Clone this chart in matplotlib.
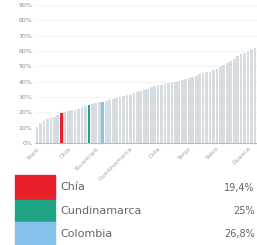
import numpy as np
import matplotlib
matplotlib.use("Agg")
import matplotlib.pyplot as plt
from matplotlib.patches import Rectangle

# share per municipality, sorted ascending (%)
values = [10.5, 13.0, 14.5, 15.5, 16.5, 17.2, 18.0, 19.4, 20.0, 20.6,
          21.2, 21.8, 22.5, 23.2, 24.0, 25.0, 25.5, 26.0, 26.5, 26.8,
          27.4, 28.0, 28.6, 29.2, 29.8, 30.4, 31.0, 31.6, 32.4, 33.1,
          33.8, 34.5, 35.3, 36.2, 37.0, 37.6, 38.1, 38.6, 39.0, 39.5,
          40.1, 40.7, 41.4, 42.0, 42.6, 43.3, 44.0, 44.7, 45.4, 46.0,
          46.6, 47.3, 48.5, 49.5, 50.8, 52.0, 53.5, 55.0, 56.5, 57.8,
          59.0, 60.0, 61.0, 62.0]

highlight_idx = [7, 15, 19]
highlight_names = ["Chía", "Cundinamarca", "Colombia"]
highlight_labels = ["19,4%", "25%", "26,8%"]
highlight_colors = ["#e8202a", "#1fa585", "#84c2ea"]

tick_idx = [0, 9, 17, 27, 35, 44, 52, 61]
tick_names = ["Sopó", "Chía", "Tocancipá", "Cundinamarca", "Cota", "Tenjo", "Tabio", "Guasca"]

yticks = np.arange(0, 91, 10)

fig = plt.figure(figsize=(2.57, 2.45), dpi=100)
ax = fig.add_axes([35 / 257, 1 - 143 / 245, 1 - 35 / 257, 138 / 245])

colors = ["#d6dde2"] * len(values)
for i, c in zip(highlight_idx, highlight_colors):
    colors[i] = c

x = np.arange(len(values))
ax.bar(x, values, width=0.8, color=colors, zorder=2)
ax.set_xlim(-0.6, len(values) - 0.4)
ax.set_ylim(0, 90)
ax.set_yticks(yticks)
ax.set_yticklabels([f"{v}%" for v in yticks], fontsize=4.5, color="#8a8a8a")
ax.set_xticks(tick_idx)
ax.set_xticklabels(tick_names, rotation=45, ha="right", rotation_mode="anchor",
                   fontsize=4.5, color="#a0a0a0")
ax.tick_params(length=0, pad=2)
ax.yaxis.grid(color="#f0f0f0", linewidth=0.5, zorder=0)
for s in ["top", "right", "left"]:
    ax.spines[s].set_visible(False)
ax.spines["bottom"].set_color("#bbbbbb")
ax.spines["bottom"].set_linewidth(0.8)

# legend rows
row_top = [175, 200, 222]
row_h = [25, 22, 23]
for top, h, name, lab, c in zip(row_top, row_h, highlight_names, highlight_labels, highlight_colors):
    fig.patches.append(Rectangle((15 / 257, 1 - (top + h) / 245), 40 / 257, h / 245,
                                 transform=fig.transFigure, color=c))
    yc = 1 - (top + h / 2) / 245
    fig.text(60 / 257, yc, name, fontsize=8, color="#666666", va="center", ha="left")
    fig.text(255 / 257, yc, lab, fontsize=7, color="#666666", va="center", ha="right")

fig.savefig("out.png", dpi=100)
